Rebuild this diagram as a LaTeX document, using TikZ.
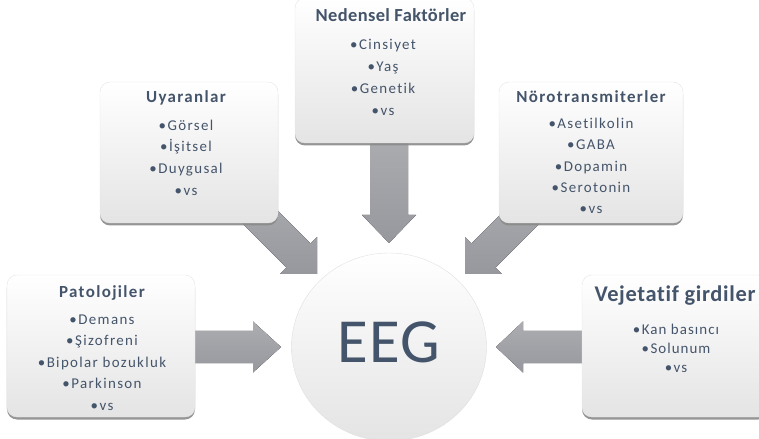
\documentclass[tikz,border=0pt]{standalone}
\usepackage{fontspec}
\setmainfont{Carlito}[Ligatures=NoCommon]
\usetikzlibrary{shapes.geometric,shadows}
\definecolor{txt}{HTML}{44546A}
\definecolor{arrtop}{HTML}{ABADB1}
\definecolor{arrbot}{HTML}{96989D}
\definecolor{shad}{HTML}{8A8A8A}
\definecolor{boxbot}{HTML}{E4E4E4}
\definecolor{boxline}{HTML}{E6E6E6}
% #1 tip, #2 angle, #3 length, #4 shaft half width, #5 head half width, #6 head length
\newcommand\blockarrow[6]{%
  \fill[arrowfill, shift={(#1)}, rotate=#2]
    (0,0) -- (-#6,#5) -- (-#6,#4) -- (-#3,#4) -- (-#3,-#4) -- (-#6,-#4) -- (-#6,-#5) -- cycle;}
\newcommand\bul{•\kern1.5bp}
\begin{document}
\begin{tikzpicture}[x=1bp,y=-1bp,
  arrowfill/.style={top color=arrtop, bottom color=arrbot},
  boxst/.style={rounded corners=10bp, top color=white, middle color=white, bottom color=boxbot,
    draw=boxline, line width=0.4bp, inner sep=0pt,
    drop shadow={shadow xshift=0bp, shadow yshift=-2.5bp, fill=shad, opacity=0.9}},
  circst/.style={ellipse, top color=white, middle color=white, bottom color=boxbot,
    draw=black!12, line width=0.4bp, inner sep=0pt},
  titlest/.style={text=txt, inner sep=0pt, anchor=base},
  smalltitle/.style={titlest, font=\fontsize{17}{19}\selectfont\bfseries\addfontfeatures{LetterSpace=8}},
  listst/.style={text=txt, inner sep=0pt, anchor=base, align=center,
    font=\fontsize{15}{21.5}\selectfont\addfontfeatures{LetterSpace=9}}]
\useasboundingbox (0,0) rectangle (759,439);
\clip (0,0) rectangle (759,439);

% arrow tips
\coordinate (tipD) at (389,243);
\coordinate (tipUL) at (317,274);
\coordinate (tipUR) at (465,274);
\coordinate (tipL) at (281,347);
\coordinate (tipR) at (496,347);

\blockarrow{tipD}{-90}{110}{19}{27}{28}
\blockarrow{tipUL}{-45}{115}{17}{26}{26}
\blockarrow{tipUR}{-135}{115}{17}{26}{26}
\blockarrow{tipL}{0}{100}{16}{25.5}{28}
\blockarrow{tipR}{180}{100}{16}{25.5}{27}

% boxes
\node[boxst, minimum width=179bp, minimum height=145bp] (ned) at (384.5,70.5) {};
\node[boxst, minimum width=178bp, minimum height=141bp] (uya) at (189,152.5) {};
\node[boxst, minimum width=184bp, minimum height=141bp] (nor) at (591,152.5) {};
\node[boxst, minimum width=188bp, minimum height=142bp] (pat) at (101,346) {};
\node[boxst, minimum width=186bp, minimum height=142bp] (vej) at (675,346) {};

% EEG circle
\node[circst, minimum width=195bp, minimum height=188bp] (eeg) at (389,347) {};
\node[text=txt, inner sep=0pt, anchor=base, font=\fontsize{63}{70}\selectfont\addfontfeatures{LetterSpace=2}] (eegt) at (389,363) {EEG};

% Nedensel (list anchored at its last baseline)
\node[titlest, font=\fontsize{18.5}{22}\selectfont\bfseries\addfontfeatures{LetterSpace=2}] (nedt) at (391,21.7) {Nedensel Faktörler};
\node[listst, font=\fontsize{15}{22}\selectfont\addfontfeatures{LetterSpace=9}] (nedl) at (383,115.3) {\bul Cinsiyet\\\bul Yaş\\\bul Genetik\\\bul vs};

% Uyaranlar
\node[smalltitle] (uyat) at (186,103) {Uyaranlar};
\node[listst, font=\fontsize{15}{21.7}\selectfont\addfontfeatures{LetterSpace=9}] (uyal) at (186,195.1) {\bul Görsel\\\bul İşitsel\\\bul Duygusal\\\bul vs};

% Nörotransmiterler
\node[smalltitle] (nort) at (591,103) {Nörotransmiterler};
\node[listst] (norl) at (591,214) {\bul Asetilkolin\\\bul GABA\\\bul Dopamin\\\bul Serotonin\\\bul vs};

% Patolojiler
\node[smalltitle] (patt) at (102,298) {Patolojiler};
\node[listst] (patl) at (102,410) {\bul Demans\\\bul Şizofreni\\\bul Bipolar bozukluk\\\bul Parkinson\\\bul vs};

% Vejetatif
\node[titlest, font=\fontsize{22.5}{26}\selectfont\bfseries\addfontfeatures{LetterSpace=3}] (vejt) at (675,302) {Vejetatif girdiler};
\node[listst, font=\fontsize{15}{19.5}\selectfont\addfontfeatures{LetterSpace=7}] (vejl) at (676,373) {\bul Kan basıncı\\\bul Solunum\\\bul vs};
\end{tikzpicture}
\end{document}
